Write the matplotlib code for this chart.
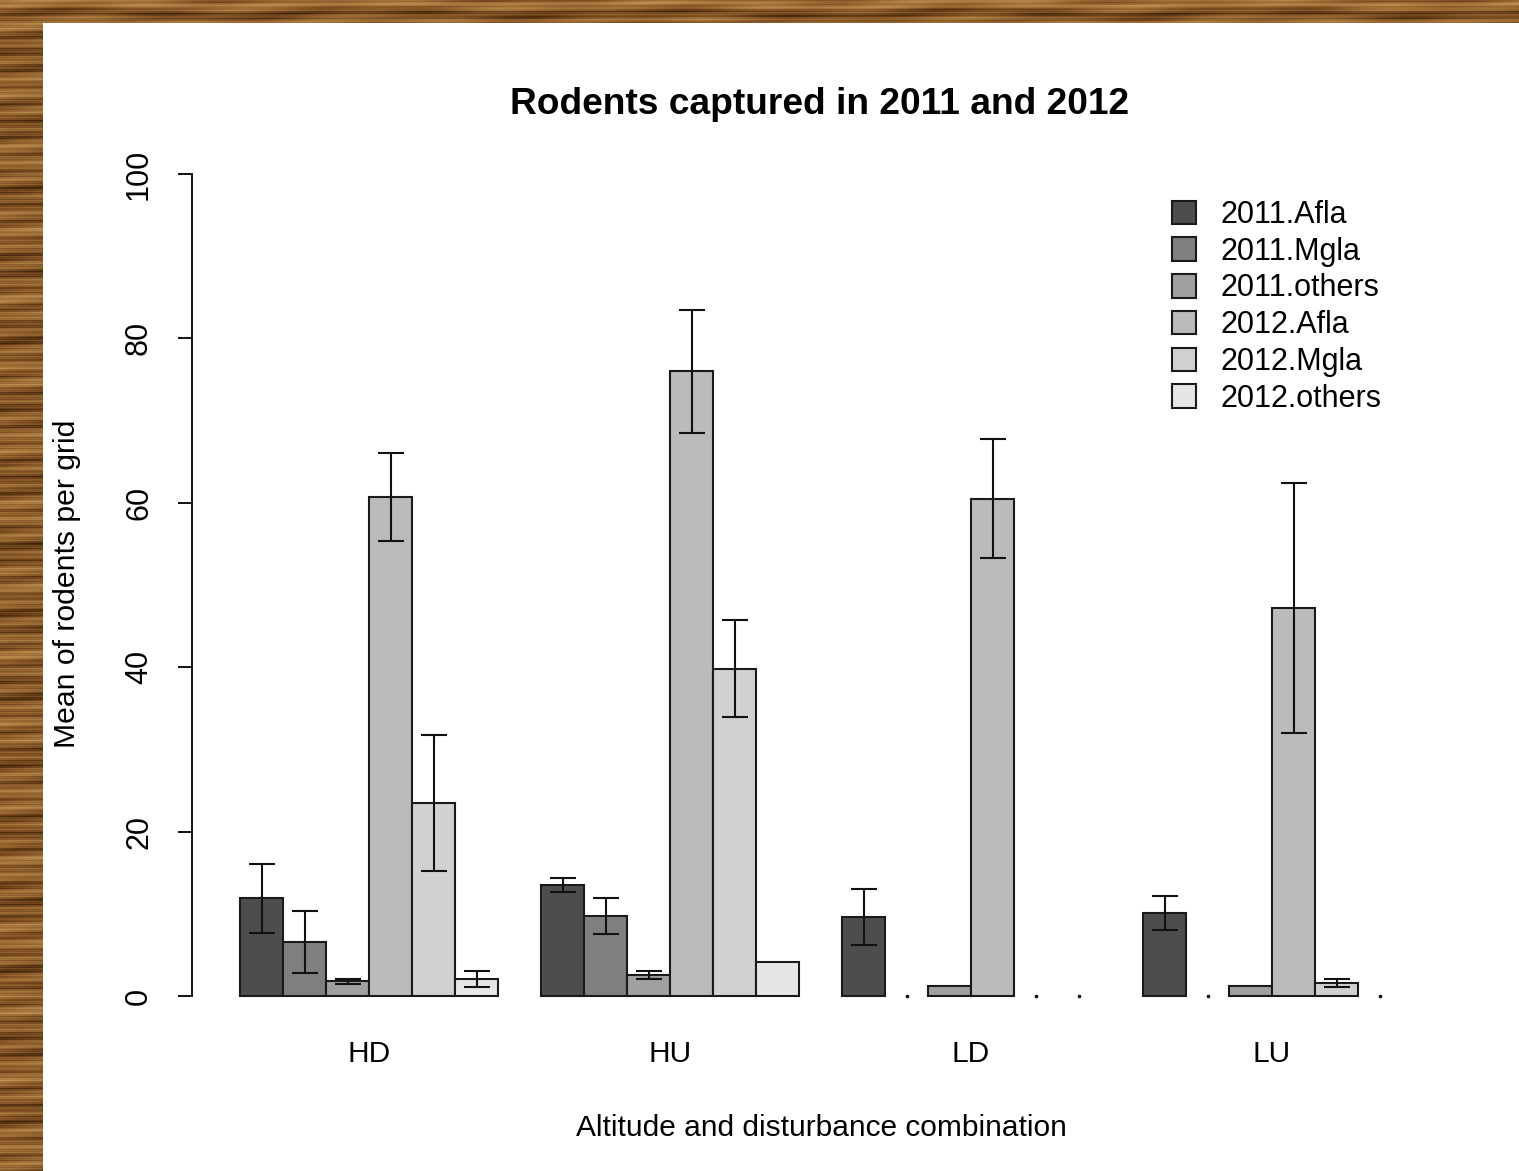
import numpy as np
import matplotlib
matplotlib.use("Agg")
import matplotlib.pyplot as plt
from matplotlib.patches import Patch
from matplotlib.colors import LinearSegmentedColormap

groups = ["HD", "HU", "LD", "LU"]
series = ["2011.Afla", "2011.Mgla", "2011.others", "2012.Afla", "2012.Mgla", "2012.others"]

# means per grid, one list per series (HD, HU, LD, LU)
afla_2011 = [11.9, 13.5, 9.6, 10.1]
mgla_2011 = [6.6, 9.7, 0.0, 0.0]
others_2011 = [1.8, 2.6, 1.2, 1.2]
afla_2012 = [60.7, 76.0, 60.5, 47.2]
mgla_2012 = [23.5, 39.8, 0.0, 1.6]
others_2012 = [2.1, 4.1, 0.0, 0.0]

# standard errors
se_afla_2011 = [4.2, 0.8, 3.4, 2.1]
se_mgla_2011 = [3.8, 2.2, 0.0, 0.0]
se_others_2011 = [0.3, 0.5, 0.0, 0.0]
se_afla_2012 = [5.4, 7.5, 7.2, 15.2]
se_mgla_2012 = [8.3, 5.9, 0.0, 0.5]
se_others_2012 = [1.0, 0.0, 0.0, 0.0]

means = np.array([afla_2011, mgla_2011, others_2011, afla_2012, mgla_2012, others_2012])
ses = np.array([se_afla_2011, se_mgla_2011, se_others_2011, se_afla_2012, se_mgla_2012, se_others_2012])

colores = ["#4D4D4D", "#7F7F7F", "#A0A0A0", "#BBBBBB", "#D1D1D1", "#E6E6E6"]

plt.rcParams["font.family"] = ["Liberation Sans", "DejaVu Sans"]

W, H = 1519, 1171
fig = plt.figure(figsize=(W / 100, H / 100), dpi=100, facecolor="white")

# wooden frame along the top and left edges
legno = LinearSegmentedColormap.from_list(
    "legno", ["#3e220a", "#6b4019", "#8e5e2c", "#a9783f", "#c4935a"])
def venatura(h, w):
    yy, xx = np.mgrid[0:h, 0:w].astype(float)
    v = (0.5 + 0.20 * np.sin(yy * 0.37 + 0.8 * np.sin(xx * 0.021))
         + 0.14 * np.sin(yy * 1.13 + xx * 0.006 + 1.3)
         + 0.10 * np.sin(yy * 0.089 + 2.0)
         + 0.08 * np.sin(yy * 2.7 + 0.5)
         + 0.07 * np.sin(xx * 0.05 + yy * 0.21))
    return v
ax_top = fig.add_axes([0, 1 - 23 / H, 1, 23 / H])
ax_top.imshow(venatura(23, W), cmap=legno, aspect="auto", interpolation="bilinear")
ax_top.axis("off")
ax_left = fig.add_axes([0, 0, 43 / W, 1 - 23 / H])
ax_left.imshow(venatura(H - 23, 43), cmap=legno, aspect="auto", interpolation="bilinear")
ax_left.axis("off")

# plot region
x0, x1 = 193.6, 1447.5
y0, y1 = 141.1, 1028.9
ax = fig.add_axes([x0 / W, 1 - y1 / H, (x1 - x0) / W, (y1 - y0) / H])
ax.set_xlim(1 - 0.04 * 27, 28 + 0.04 * 27)
ax.set_ylim(-4, 104)

for i in range(len(series)):
    pos = np.array([1 + 7 * j + i + 0.5 for j in range(len(groups))])
    lw = np.where(means[i] > 0, 1.5, 0.0)
    ax.bar(pos, means[i], width=1, color=colores[i], edgecolor="#1a1a1a",
           linewidth=lw, zorder=2)
    con_se = ses[i] > 0
    ax.errorbar(pos[con_se], means[i][con_se], yerr=ses[i][con_se], fmt="none",
                ecolor="#111111", elinewidth=1.5, capsize=9.5, capthick=1.5, zorder=3)
    vuoti = means[i] == 0
    ax.plot(pos[vuoti], means[i][vuoti], ls="none", marker="o", ms=1.6,
            color="#111111", zorder=3)

for s in ["top", "right", "bottom"]:
    ax.spines[s].set_visible(False)
ax.spines["left"].set_position(("outward", 1.5))
ax.spines["left"].set_bounds(0, 100)
ax.spines["left"].set_linewidth(1.4)
ax.spines["left"].set_color("#111111")
ax.set_yticks([0, 20, 40, 60, 80, 100])
ax.set_yticklabels(["0", "20", "40", "60", "80", "100"], rotation=90, va="center")
ax.tick_params(axis="y", length=10, width=1.4, pad=17, labelsize=22, color="#111111")
ax.set_xticks([1 + 7 * j + 3 for j in range(len(groups))])
ax.set_xticklabels(groups)
ax.tick_params(axis="x", length=0, pad=8, labelsize=21.5)

fig.text(820 / W, 1 - 105 / H, "Rodents captured in 2011 and 2012", ha="center",
         va="center", fontsize=26.7, fontweight="bold")
fig.text(821 / W, 1 - 1128 / H, "Altitude and disturbance combination", ha="center",
         va="center", fontsize=21.5)
fig.text(67 / W, 1 - 584 / H, "Mean of rodents per grid", ha="center", va="center",
         rotation=90, fontsize=21.7)

handles = [Patch(facecolor=c, edgecolor="#1a1a1a", linewidth=1.5) for c in colores]
ax.legend(handles, series, loc="upper left", bbox_to_anchor=(1172 / W, 1 - 200 / H),
          bbox_transform=fig.transFigure, frameon=False, fontsize=22,
          handlelength=0.8, handleheight=0.8, handletextpad=0.8,
          labelspacing=0.22, borderpad=0, borderaxespad=0)

fig.savefig("out.png", dpi=100, facecolor="white")
